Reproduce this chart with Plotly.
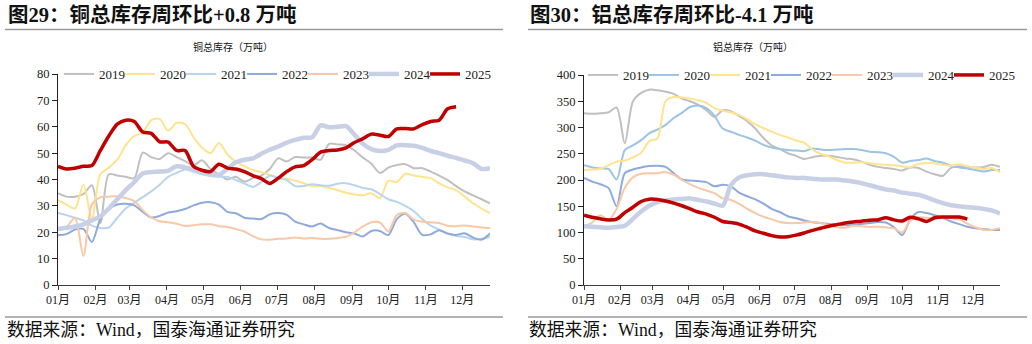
import pandas as pd
import plotly.graph_objects as go

# ---------------- data ----------------
weeks = pd.date_range("2025-01-01", periods=52, freq="7D")
years = ["2019", "2020", "2021", "2022", "2023", "2024", "2025"]

# copper total inventory (10k t), weekly
cu_2019 = [34.8, 33.5, 33.5, 34.5, 37.8, 23.5, 42.0, 41.5, 41.0, 40.5, 50.2, 48.5, 47.8, 50.0, 48.5, 47.0,
           45.3, 47.3, 44.0, 42.0, 40.0, 41.0, 39.2, 40.5, 41.5, 44.0, 48.0, 46.8, 48.5, 48.3, 48.3, 47.5,
           53.5, 53.3, 53.0, 51.0, 48.3, 46.0, 42.5, 44.5, 45.5, 45.8, 44.3, 44.3, 43.0, 41.5, 39.8, 37.5,
           35.5, 34.0, 32.5, 31.0]
cu_2020 = [32.2, 30.5, 29.0, 38.0, 25.0, 42.0, 44.5, 47.5, 53.0, 56.5, 57.8, 62.5, 63.0, 58.5, 61.5, 61.0,
           56.0, 52.0, 50.0, 53.8, 49.5, 46.8, 45.0, 43.6, 42.8, 41.8, 40.6, 40.3, 39.5, 38.6, 37.5, 37.5,
           36.8, 36.0, 35.0, 34.3, 34.0, 34.8, 33.0, 39.5, 39.0, 42.2, 41.5, 41.0, 40.5, 38.5, 37.0, 36.0,
           33.5, 31.0, 29.0, 27.3]
cu_2021 = [27.3, 26.5, 25.5, 24.5, 22.5, 21.6, 21.8, 25.5, 29.0, 31.2, 33.3, 35.5, 38.0, 41.0, 42.5, 43.8,
           43.0, 42.0, 41.3, 41.0, 41.0, 39.8, 38.5, 37.2, 39.0, 41.5, 40.5, 39.8, 37.5, 37.5, 38.2, 37.8,
           37.6, 38.4, 38.6, 37.8, 36.8, 36.3, 34.5, 32.5, 31.5, 30.0, 28.0, 25.0, 22.5, 21.0, 19.5, 18.6,
           18.2, 17.3, 17.5, 18.2]
cu_2022 = [18.9, 19.3, 21.0, 21.3, 16.3, 25.0, 28.8, 30.5, 30.8, 30.2, 27.8, 25.6, 26.2, 27.5, 28.0, 28.8,
           30.2, 31.2, 31.4, 30.5, 27.7, 27.2, 25.5, 25.2, 25.0, 26.8, 27.3, 26.6, 24.0, 23.0, 22.2, 23.3,
           21.6, 20.8, 20.0, 19.5, 18.4, 20.5, 20.5, 18.9, 25.0, 27.0, 23.8, 19.0, 19.2, 20.8, 19.5, 19.0,
           19.6, 18.0, 17.2, 19.5]
cu_2023 = [20.8, 22.0, 25.5, 11.0, 30.5, 33.2, 33.5, 33.6, 33.0, 31.8, 28.4, 25.6, 24.2, 23.8, 23.2, 22.4,
           22.7, 23.0, 23.0, 22.3, 22.0, 21.2, 20.3, 18.5, 17.3, 17.2, 17.5, 17.6, 18.0, 17.6, 17.8, 17.5,
           17.5, 17.8, 18.3, 20.0, 22.2, 23.8, 23.7, 20.3, 26.5, 27.3, 24.8, 24.0, 23.7, 23.5, 22.5, 22.3,
           22.6, 22.2, 21.8, 21.6]
cu_2024 = [21.2, 21.7, 22.2, 23.0, 24.5, 26.0, 29.0, 32.5, 36.0, 39.0, 42.3, 42.8, 43.0, 43.3, 45.0, 44.6,
           43.8, 42.6, 42.0, 41.8, 44.0, 46.5, 47.5, 48.0, 49.8, 51.3, 52.5, 54.0, 55.0, 55.8, 56.0, 60.5,
           59.8, 60.0, 60.2, 57.0, 53.5, 51.5, 50.8, 51.2, 53.0, 53.0, 52.8, 52.0, 50.8, 50.0, 49.0, 48.2,
           47.2, 46.2, 44.0, 44.3]
cu_2025 = [45.0, 44.0, 44.3, 45.0, 45.3, 51.0, 56.5, 61.0, 62.5, 62.0, 58.0, 57.5, 54.3, 54.2, 51.0, 51.0,
           45.0, 43.5, 43.0, 45.8, 44.3, 44.0, 43.0, 41.5, 40.3, 38.5, 40.5, 43.0, 44.8, 45.3, 47.5, 50.4,
           51.0, 51.2, 52.0, 54.0, 55.5, 57.2, 56.8, 56.3, 59.2, 59.3, 59.2, 60.8, 62.0, 62.5, 66.8, 67.6]

# aluminium total inventory (10k t), weekly
al_2019 = [327, 326, 327, 329, 338, 270, 350, 366, 372, 371, 368, 364, 355, 350, 343, 333,
           320, 333, 331, 322, 312, 298, 280, 266, 259, 251, 246, 240, 243.5, 246, 246, 244,
           241, 239.5, 235, 229, 225, 223, 221, 218, 224, 223, 216, 211, 208, 223, 226, 225,
           224, 225, 229, 225]
al_2020 = [228, 224, 222, 221, 201, 257, 266, 276, 289, 296, 305, 318, 328, 339, 342, 337,
           322, 298, 292, 286, 281, 275, 267, 262, 259, 257, 256, 255, 260, 258, 257, 258,
           259, 259, 257, 254, 253, 251, 244, 233, 236, 238, 241, 236, 233, 227, 224, 222,
           219, 216, 219, 219]
al_2021 = [219, 220, 221, 228, 235, 237, 243, 252, 274, 279, 350, 358, 357, 355, 352, 347,
           337, 332, 329, 324, 316, 306, 299, 292, 286, 281, 275, 271, 258, 250, 245, 238,
           233, 233, 234, 232, 230, 229, 228, 226, 224, 231, 232, 232, 229, 227, 230, 226,
           223, 221, 223, 215]
al_2022 = [204, 197, 192, 185, 150, 213, 220, 224, 226.5, 227, 225, 213, 201, 199, 198, 196,
           188, 191, 188, 176, 169, 163, 155, 145, 139, 131, 127, 123, 119.5, 118, 116, 114.5,
           114, 114.5, 116, 118, 120, 119, 110, 95, 125, 139, 137, 133, 128, 121, 116, 111,
           108, 106, 105, 105]
al_2023 = [110, 119, 133, 124, 145, 185, 205, 212, 213, 213, 215, 210, 200, 192, 185, 180,
           175, 165, 162, 155, 145, 137, 130, 125, 120, 118, 118, 119, 120, 118, 114, 110,
           109, 113, 112, 110.5, 111, 110, 108, 100, 122, 129, 128, 127, 127.5, 127, 125, 117,
           110, 105, 105, 108]
al_2024 = [112, 111, 110, 109, 110.5, 113, 126, 140, 151, 158, 161, 163, 164, 165, 162, 159,
           155, 151, 190, 205, 209, 211, 211, 209, 207, 205, 204, 204, 202.5, 201, 201, 201,
           199, 197, 194, 190, 186, 182, 180, 176, 174, 172, 167, 161, 156, 152, 150, 148,
           147, 145, 142, 136]
al_2025 = [133, 129, 126, 124, 125.5, 138, 148, 159, 163.5, 163, 160, 156, 151, 145, 139, 135,
           129, 121, 119, 116, 110, 103, 98.5, 94, 91.5, 92, 95, 99, 104, 108, 112, 115,
           118, 120, 121.5, 123.5, 124, 128, 124, 122, 129, 126, 121, 128, 129.5, 129.5, 129.5, 125.4]

cu_series = [cu_2019, cu_2020, cu_2021, cu_2022, cu_2023, cu_2024, cu_2025]
al_series = [al_2019, al_2020, al_2021, al_2022, al_2023, al_2024, al_2025]

cu_colors = ["#c0c0c0", "#ffe38e", "#b9d4f0", "#8eaadc", "#f8c8a8", "#c8d0e6", "#c00000"]
al_colors = ["#c0c0c0", "#9dc3e6", "#ffe38e", "#8eaadc", "#f8c8a8", "#c8d0e6", "#c00000"]
widths = [2, 2, 2, 2, 2, 4.5, 3.5]

W, H = 1032, 344
SERIF = "Liberation Serif, Noto Sans CJK SC, serif"


def px(x):
    return x / W


def py(y):
    return 1 - y / H


fig = go.Figure()


def add_panel(series, colors, xa, ya, leg):
    for name, vals, col, w in zip(years, series, colors, widths):
        fig.add_trace(go.Scatter(
            x=weeks[:len(vals)], y=vals, name=name, mode="lines",
            line=dict(color=col, width=w, shape="spline", smoothing=0.8),
            xaxis=xa, yaxis=ya, legend=leg))
    # empty spacer entry so the last legend label is not clipped
    fig.add_trace(go.Scatter(
        x=[None], y=[None], name=" ", mode="lines", line=dict(width=0, color="white"),
        xaxis=xa, yaxis=ya, legend=leg, hoverinfo="skip"))


add_panel(cu_series, cu_colors, "x", "y", "legend")
add_panel(al_series, al_colors, "x2", "y2", "legend2")

x_common = dict(
    type="date", range=["2025-01-01", "2025-12-24"], tickformat="%m月",
    dtick="M1", tick0="2025-01-01", ticks="outside", ticklen=4, tickcolor="#404040",
    showline=True, linecolor="#404040", linewidth=1, showgrid=False, zeroline=False,
    automargin=False, tickfont=dict(family=SERIF, size=12, color="#222"),
)
y_common = dict(
    ticks="outside", ticklen=5, tickcolor="#222", showline=True, linecolor="#222",
    linewidth=1, showgrid=False, zeroline=False, automargin=False,
    tickfont=dict(family=SERIF, size=12.5, color="#222"),
)
legend_common = dict(
    orientation="h", xanchor="left", yanchor="middle",
    font=dict(family=SERIF, size=13, color="#222"), bgcolor="rgba(0,0,0,0)",
    entrywidth=16, itemwidth=30, tracegroupgap=0,
)

fig.update_layout(
    width=W, height=H, margin=dict(l=0, r=0, t=0, b=0, autoexpand=False),
    paper_bgcolor="white", plot_bgcolor="white", showlegend=True,
    xaxis=dict(domain=[px(58), px(490)], anchor="y", **x_common),
    yaxis=dict(domain=[py(285), py(74)], anchor="x", range=[0, 80], dtick=10, **y_common),
    xaxis2=dict(domain=[px(584), px(1000)], anchor="y2", **x_common),
    yaxis2=dict(domain=[py(285), py(75)], anchor="x2", range=[0, 400], dtick=50, **y_common),
    legend=dict(x=px(59), y=py(74), **legend_common),
    legend2=dict(x=px(583), y=py(75), **legend_common),
)

# titles, subtitles and source notes
texts = [
    (6, 15, "图29：铜总库存周环比+0.8 万吨", 20.5, True, "left"),
    (528, 15, "图30：铝总库存周环比-4.1 万吨", 20.5, True, "left"),
    (233, 47, "铜总库存（万吨）", 10, False, "center"),
    (753, 47, "铝总库存（万吨）", 10, False, "center"),
    (5, 330, "数据来源：Wind，国泰海通证券研究", 17.8, False, "left"),
    (527, 330, "数据来源：Wind，国泰海通证券研究", 17.8, False, "left"),
]
for x, y, t, s, bold, anchor in texts:
    fig.add_annotation(
        x=px(x), y=py(y), xref="paper", yref="paper", text=f"<b>{t}</b>" if bold else t,
        showarrow=False, xanchor=anchor, yanchor="middle",
        font=dict(family=SERIF, size=s, color="#111"))

# separator rules under the titles and above the source notes
for x0, x1 in [(5, 503), (528, 1027)]:
    for y in (29.5, 317):
        fig.add_shape(type="line", xref="paper", yref="paper",
                      x0=px(x0), x1=px(x1), y0=py(y), y1=py(y),
                      line=dict(color="#9a9a9a", width=1.5))

fig.write_html("out.html")
